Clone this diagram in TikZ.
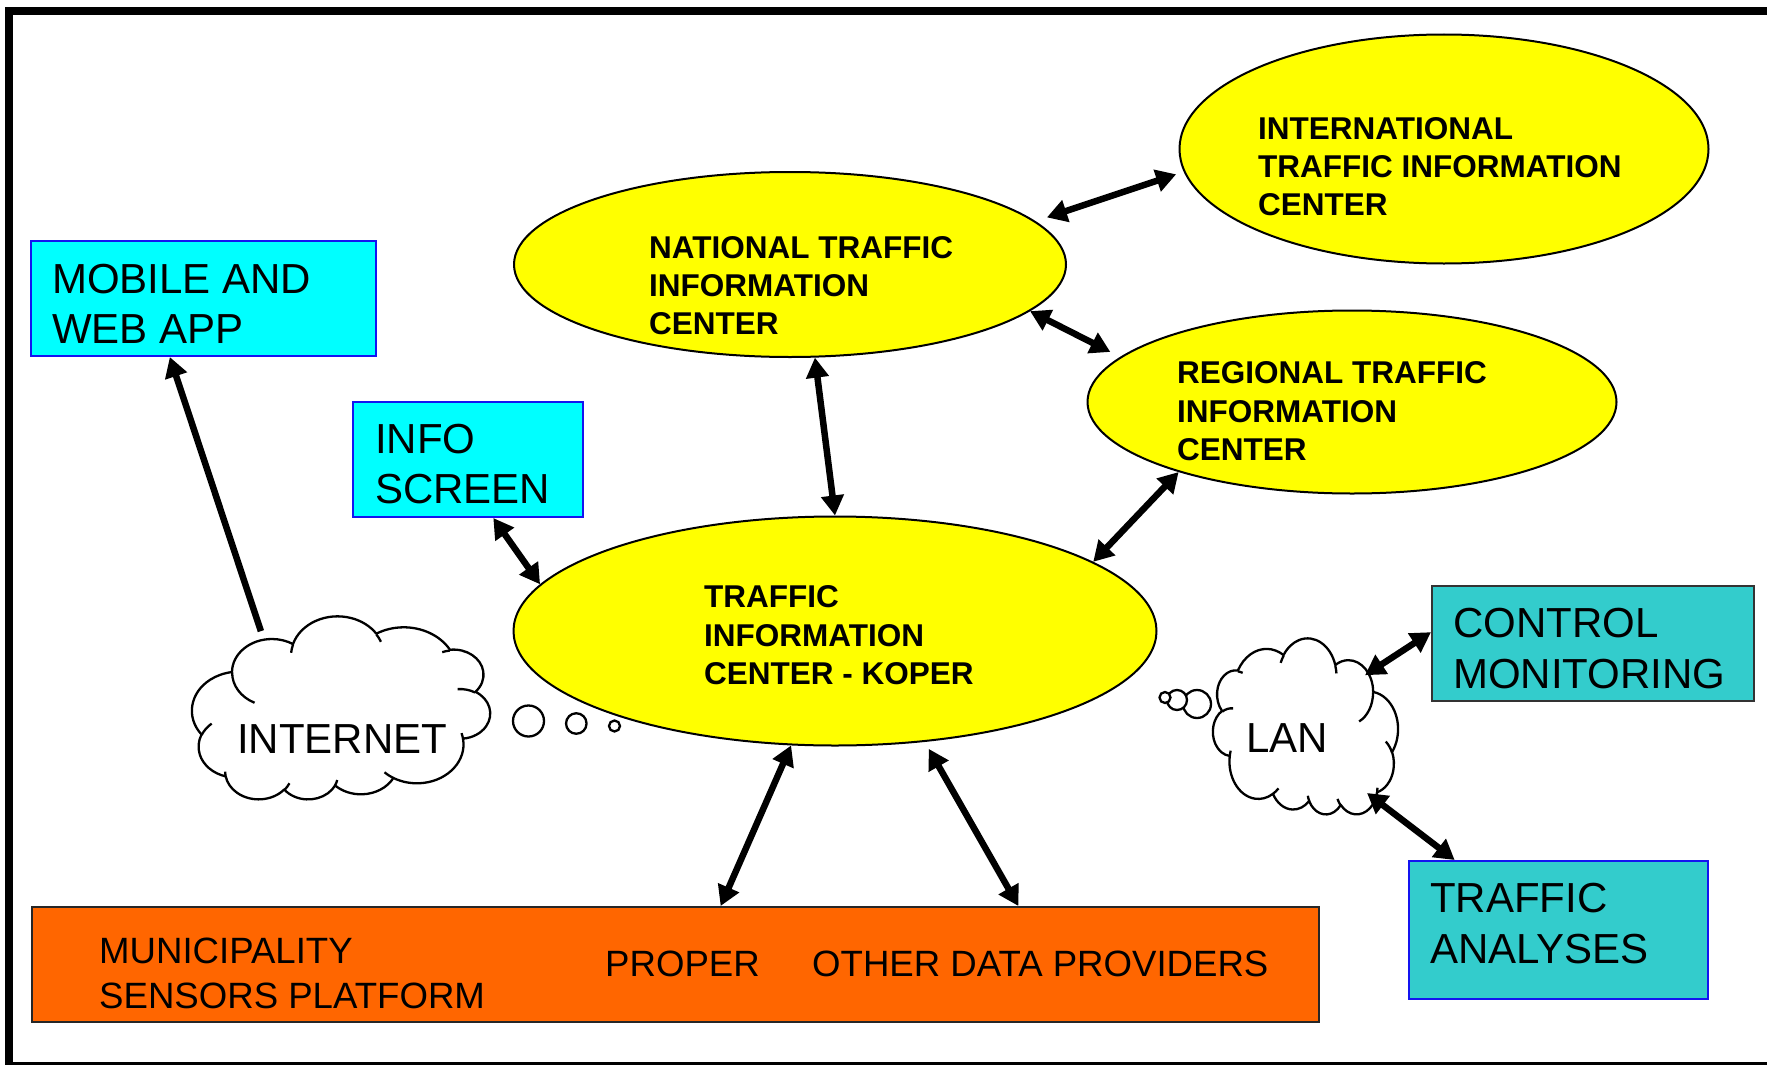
\documentclass[tikz,border=0pt]{standalone}
\usepackage{fontspec}
\setmainfont{Liberation Sans}
\usetikzlibrary{arrows.meta,calc,shapes.geometric}
\definecolor{cyanbox}{RGB}{0,255,255}
\definecolor{tealbox}{RGB}{51,204,204}
\definecolor{orangebox}{RGB}{255,102,0}
\definecolor{yell}{RGB}{255,255,0}
\definecolor{bluebd}{RGB}{20,20,240}
% elliptical arc given with visual angles (as in DrawingML arcTo)
\newcommand\cldarc[5]{%
  \pgfmathsetmacro\cldtA{atan2((#2)*sin(#4),(#3)*cos(#4))}%
  \pgfmathsetmacro\cldtB{atan2((#2)*sin((#4)+(#5)),(#3)*cos((#4)+(#5)))}%
  \pgfmathsetmacro\clddT{mod(\cldtB-(\cldtA)+720,360)}%
  \xdef#1{#1 arc[start angle=\cldtA, delta angle=\clddT, x radius=#2, y radius=#3]}%
}
\newcommand\cldmove[3]{\xdef#1{#1 (#2,#3)}}
\begin{document}
\begin{tikzpicture}[x=1pt,y=-1pt,
  ell/.style={ellipse, draw=black, line width=2pt, fill=yell, inner sep=0pt},
  boxnode/.style={rectangle, line width=2pt, inner sep=0pt},
  plain/.style={anchor=base west, inner sep=0pt, font=\fontsize{42}{48}\selectfont},
  bold/.style={anchor=base west, inner sep=0pt, font=\fontsize{31.5}{38}\selectfont\bfseries},
  small/.style={anchor=base west, inner sep=0pt, font=\fontsize{36.6}{44}\selectfont},
  arr/.style={line width=6.5pt, {Triangle[length=20pt,width=22pt]}-{Triangle[length=20pt,width=22pt]}},
  arrone/.style={line width=6.5pt, -{Triangle[length=20pt,width=22pt]}},
  cloudline/.style={line width=2.3pt, line join=round},
  bubble/.style={circle, draw=black, line width=2.3pt, inner sep=0pt, fill=white},
  ghost/.style={ellipse, inner sep=0pt},
]
\useasboundingbox (0,0) rectangle (1767,1065);
\fill[white] (0,0) rectangle (1767,1065);
\begin{scope}
\clip (0,0) rectangle (1767,1065);
\draw[line width=8pt] (9,11.5) rectangle (1790,1066);
\end{scope}

% ---- cloud outline (DrawingML cloud, scaled to 432 x 432) ----
\gdef\cldouter{(39.00,143.70)}
\cldarc\cldouter{67.53}{91.90}{-190.48748}{123.78053}
\cldarc\cldouter{53.33}{72.67}{-144.10238}{89.94523}
\cldarc\cldouter{43.65}{59.45}{-145.80792}{99.72302}
\cldarc\cldouter{48.57}{65.95}{-130.98607}{117.24173}
\cldarc\cldouter{53.33}{72.73}{-78.70888}{109.02692}
\cldarc\cldouter{67.75}{92.20}{-46.26725}{130.269}
\cldarc\cldouter{57.85}{78.67}{0.62502}{114.03333}
\cldarc\cldouter{67.52}{92.15}{22.4516}{115.17255}
\cldarc\cldouter{77.20}{105.43}{66.24263}{75.71102}
\cldarc\cldouter{43.60}{59.18}{-274.94208}{146.73557}
\cldarc\cldouter{43.45}{59.45}{-246.8285}{152.51885}
\gdef\cldinner{}
\cldmove\cldinner{46.93}{261.77}\cldarc\cldinner{43.45}{59.45}{86.742}{26.4295}
\cldmove\cldinner{69.28}{348.99}\cldarc\cldinner{43.60}{59.18}{73.61047}{11.44747}
\cldmove\cldinner{164.78}{390.90}\cldarc\cldinner{67.52}{92.15}{137.62415}{14.0811}
\cldmove\cldinner{288.27}{347.51}\cldarc\cldinner{67.52}{92.15}{6.45327}{15.99835}
\cldmove\cldinner{341.29}{229.54}\cldarc\cldinner{57.85}{78.67}{-70.29235}{70.91737}
\cldmove\cldinner{417.98}{153.54}\cldarc\cldinner{53.33}{72.73}{30.31803}{27.7515}
\cldmove\cldinner{383.24}{54.26}\cldarc\cldinner{48.57}{65.95}{-13.74433}{14.8589}
\cldmove\cldinner{290.78}{39.52}\cldarc\cldinner{48.57}{65.95}{-149.18145}{18.19537}
\cldmove\cldinner{221.41}{47.20}\cldarc\cldinner{43.65}{59.45}{-163.49427}{17.68635}
\cldmove\cldinner{140.00}{51.92}\cldarc\cldinner{67.53}{91.90}{-66.70695}{12.31935}
\cldmove\cldinner{41.27}{157.89}\cldarc\cldinner{67.53}{91.90}{157.65435}{11.85817}
\edef\cldtmp{\noexpand\draw[cloudline] \cldouter -- cycle; \noexpand\draw[cloudline] \cldinner;}

% INTERNET cloud (shape turned by 180 degrees)
\begin{scope}[shift={(490,800)}, xscale=-0.6898, yscale=-0.4236]
\cldtmp
\end{scope}
% LAN cloud (shape flipped vertically)
\begin{scope}[shift={(1213,815)}, xscale=0.4282, yscale=-0.4074]
\cldtmp
\end{scope}
\node[ghost, minimum width=298pt, minimum height=183pt] (inet) at (341,708.5) {};
\node[ghost, minimum width=185pt, minimum height=176pt] (lan) at (1305.5,727) {};
\node[bubble, minimum size=31pt] (ib1) at (528.5,721) {};
\node[bubble, minimum size=20.5pt] (ib2) at (576.3,723.5) {};
\node[bubble, minimum size=11pt] (ib3) at (614.5,726) {};
\node[bubble, minimum size=28pt] (lb1) at (1197,704) {};
\node[bubble, minimum size=20pt] (lb2) at (1177,700) {};
\node[bubble, minimum size=11pt] (lb3) at (1165,697.5) {};
\node[plain] (tinet) at (237,753) {INTERNET};
\node[plain] (tlan) at (1246,752) {LAN};

% ---- boxes ----
\node[boxnode, draw=bluebd, fill=cyanbox, minimum width=345pt, minimum height=115pt] (mobile) at (203.5,298.5) {};
\node[plain] (tmob1) at (52,293) {MOBILE AND};
\node[plain] (tmob2) at (52,343) {WEB APP};
\node[boxnode, draw=bluebd, fill=cyanbox, minimum width=230pt, minimum height=115pt] (info) at (468,459.5) {};
\node[plain] (tinf1) at (375,453) {INFO};
\node[plain] (tinf2) at (375,503) {SCREEN};
\node[boxnode, draw=black!80, fill=tealbox, minimum width=322pt, minimum height=115pt] (ctrl) at (1593,643.5) {};
\node[plain] (tctl1) at (1453,637) {CONTROL};
\node[plain] (tctl2) at (1453,688) {MONITORING};
\node[boxnode, draw=bluebd, fill=tealbox, minimum width=299pt, minimum height=138pt] (ta) at (1558.5,930) {};
\node[plain] (tta1) at (1430,912) {TRAFFIC};
\node[plain] (tta2) at (1430,963) {ANALYSES};
\node[boxnode, draw=black!85, fill=orangebox, minimum width=1287pt, minimum height=115pt] (prov) at (675.5,964.5) {};
\node[small] (tpr1) at (99,963) {MUNICIPALITY};
\node[small] (tpr2) at (99,1008) {SENSORS PLATFORM};
\node[small] (tpr3) at (605,976) {PROPER};
\node[small] (tpr4) at (812,976) {OTHER DATA PROVIDERS};

% ---- ellipses ----
\node[ell, minimum width=529pt, minimum height=229pt] (intl) at (1444,149) {};
\node[bold] (tint1) at (1258,139) {INTERNATIONAL};
\node[bold] (tint2) at (1258,177) {TRAFFIC INFORMATION};
\node[bold] (tint3) at (1258,215) {CENTER};
\node[ell, minimum width=552pt, minimum height=185pt] (nat) at (790,264.5) {};
\node[bold] (tnat1) at (649,258) {NATIONAL TRAFFIC};
\node[bold] (tnat2) at (649,296) {INFORMATION};
\node[bold] (tnat3) at (649,334) {CENTER};
\node[ell, minimum width=529pt, minimum height=183pt] (reg) at (1352,402) {};
\node[bold] (treg1) at (1177,383) {REGIONAL TRAFFIC};
\node[bold] (treg2) at (1177,422) {INFORMATION};
\node[bold] (treg3) at (1177,460) {CENTER};
\node[ell, minimum width=643pt, minimum height=229pt] (koper) at (835,631) {};
\node[bold] (tkop1) at (704,607) {TRAFFIC};
\node[bold] (tkop2) at (704,646) {INFORMATION};
\node[bold] (tkop3) at (704,684) {CENTER - KOPER};

% ---- connectors ----
\draw[arrone] (inet.136) -- ($(mobile.south west)!0.403!(mobile.south east)$);
\draw[arr] ($(info.south west)!0.609!(info.south east)$) -- (koper.171);
\draw[arr] (nat.-75) -- (koper.90);
\draw[arr, shorten <=12pt, shorten >=8pt] (nat.10.5) -- (intl.185);
\draw[arr, shorten >=11pt] (nat.-11.7) -- (reg.169);
\draw[arr] (reg.202) -- (koper.15.6);
\draw[arr] (koper.-111.6) -- ($(prov.north west)!0.535!(prov.north east)$);
\draw[arr, shorten <=8pt] (koper.-51.3) -- ($(prov.north west)!0.766!(prov.north east)$);
\draw[arr, shorten <=-12pt] (lan.40) -- (ctrl.176);
\draw[arr] (lan.-47.5) -- (ta.146);
\end{tikzpicture}
\end{document}
